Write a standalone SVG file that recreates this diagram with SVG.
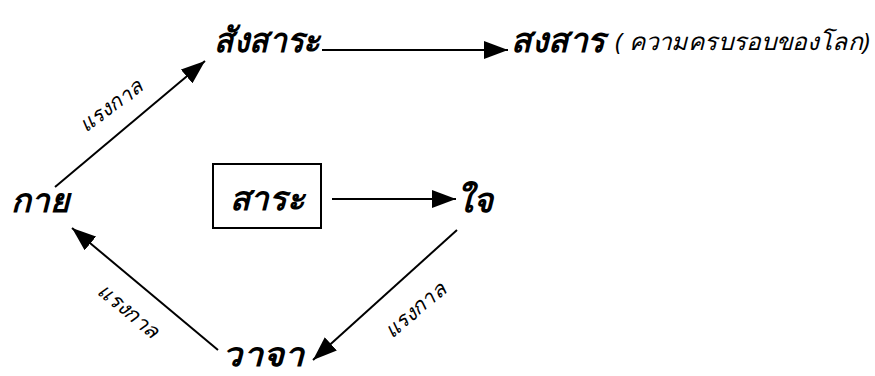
<svg xmlns="http://www.w3.org/2000/svg" width="875" height="376" viewBox="0 0 875 376">
<style>
.t{font-family:"Noto Sans","DejaVu Sans",sans-serif;font-weight:bold;font-style:italic;fill:#000}
.big{font-size:34px}
.mid{font-size:33px}
.lbl{font-family:"Noto Sans","DejaVu Sans",sans-serif;font-style:italic;font-size:21px;fill:#000}
.par{font-family:"Noto Sans","DejaVu Sans",sans-serif;font-style:italic;font-size:24px;fill:#000}
.c{stroke:#000;stroke-width:2;fill:none;marker-end:url(#ah)}
</style>
<defs>
<marker id="ah" viewBox="0 0 24 18" refX="24" refY="9" markerWidth="24" markerHeight="18" markerUnits="userSpaceOnUse" orient="auto">
<path d="M0,0 L24,9 L0,18 z" fill="#000"/>
</marker>
</defs>
<rect width="875" height="376" fill="#fff"/>
<g id="connectors">
<line class="c" x1="55" y1="187" x2="205" y2="61"/>
<line class="c" x1="322" y1="50" x2="508" y2="50"/>
<line class="c" x1="332" y1="199" x2="456" y2="199"/>
<line class="c" x1="457" y1="230" x2="313" y2="360"/>
<line class="c" x1="218" y1="350" x2="72" y2="228"/>
</g>
<g id="labels">
<text class="lbl" transform="translate(112,107) rotate(-37)" text-anchor="middle" dominant-baseline="middle">แรงกาล</text>
<text class="lbl" transform="translate(128,312) rotate(40)" text-anchor="middle" dominant-baseline="middle">แรงกาล</text>
<text class="lbl" transform="translate(416,311) rotate(-40)" text-anchor="middle" dominant-baseline="middle">แรงกาล</text>
</g>
<g id="sangsara"><text class="t big" x="267" y="52" text-anchor="middle" textLength="106" lengthAdjust="spacingAndGlyphs">สังสาระ</text></g>
<g id="songsan">
<text class="t big" x="558" y="52" text-anchor="middle" textLength="94" lengthAdjust="spacingAndGlyphs">สงสาร</text>
<text class="par" x="615" y="50" textLength="255" lengthAdjust="spacingAndGlyphs">( ความครบรอบของโลก)</text>
</g>
<g id="kai"><text class="t mid" x="40" y="212" text-anchor="middle">กาย</text></g>
<g id="sara">
<rect x="213" y="164" width="108" height="64" fill="none" stroke="#000" stroke-width="2"/>
<text class="t mid" x="267" y="210" text-anchor="middle">สาระ</text>
</g>
<g id="jai"><text class="t big" x="474" y="212" text-anchor="middle" font-size="38">ใจ</text></g>
<g id="waja"><text class="t mid" x="263" y="366" text-anchor="middle" font-size="31" textLength="82" lengthAdjust="spacingAndGlyphs">วาจา</text></g>
</svg>
